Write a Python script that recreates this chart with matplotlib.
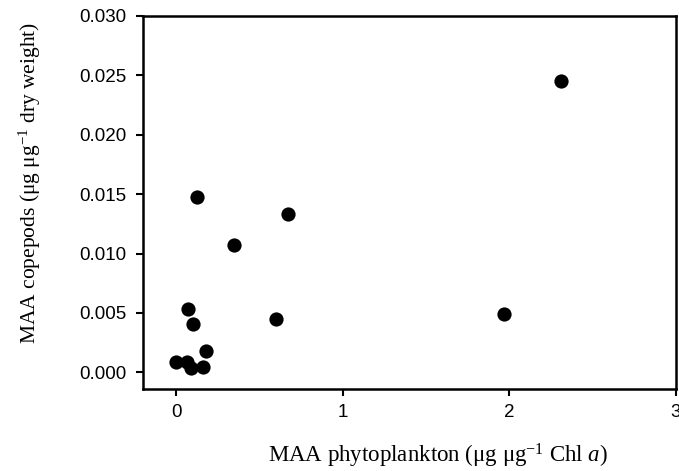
import matplotlib
matplotlib.use("Agg")
import matplotlib.pyplot as plt
from matplotlib.ticker import FormatStrFormatter

x_phyto = [0.0, 0.066, 0.086, 0.16, 0.18, 0.10, 0.068, 0.60, 0.126, 0.67, 0.345, 2.31, 1.97]
y_cope = [0.0009, 0.00086, 0.00035, 0.00044, 0.0018, 0.0041, 0.0053, 0.0045, 0.0148, 0.0133, 0.0107, 0.0245, 0.0049]
x_ticks = [0, 1, 2, 3]
y_ticks = [0.000, 0.005, 0.010, 0.015, 0.020, 0.025, 0.030]

plt.rcParams['mathtext.fontset'] = 'custom'
plt.rcParams['mathtext.rm'] = 'Liberation Serif'
plt.rcParams['mathtext.it'] = 'Liberation Serif:italic'

W, H = 679, 471
fig = plt.figure(figsize=(W/100, H/100), dpi=100)
L, R, T, B = 143, 676, 16, 389
ax = fig.add_axes([L/W, 1-B/H, (R-L)/W, (B-T)/H])

ax.scatter(x_phyto, y_cope, s=105, color='black', zorder=3, linewidths=0)

ax.set_xlim(-0.2, 3.0)
ax.set_ylim(-0.0014, 0.030)
ax.set_xticks(x_ticks)
ax.set_yticks(y_ticks)
ax.yaxis.set_major_formatter(FormatStrFormatter('%.3f'))

for s in ax.spines.values():
    s.set_linewidth(1.8)
ax.tick_params(direction='out', length=5, width=1.5, labelsize=13.5)
ax.tick_params(axis='y', pad=7)
ax.tick_params(axis='x', pad=6)
for lab in ax.get_xticklabels() + ax.get_yticklabels():
    lab.set_fontfamily('Liberation Sans')

ax.set_xlabel(r'MAA phytoplankton ($\mathrm{\mu}$g $\mathrm{\mu}$g$^{\mathrm{-1}}$ Chl $a$)',
              fontfamily='Liberation Serif', fontsize=16.5, va='center', ha='center')
ax.xaxis.set_label_coords((438-L)/(R-L), (B-456)/(B-T))
ax.set_ylabel(r'MAA copepods ($\mathrm{\mu}$g $\mathrm{\mu}$g$^{\mathrm{-1}}$ dry weight)',
              fontfamily='Liberation Serif', fontsize=15.5, va='center', ha='center')
ax.yaxis.set_label_coords((30-L)/(R-L), (B-183)/(B-T))

fig.savefig('out.png', dpi=100)
